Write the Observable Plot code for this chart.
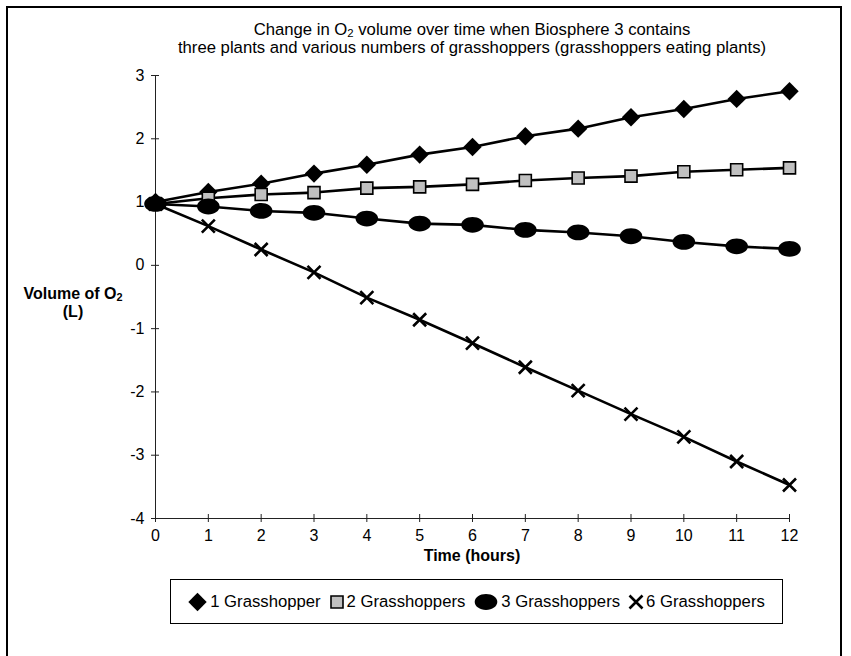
<!DOCTYPE html>
<html>
<head>
<meta charset="utf-8">
<script src="https://cdn.jsdelivr.net/npm/d3@7"></script>
<script src="https://cdn.jsdelivr.net/npm/@observablehq/plot@0.6"></script>
<style>
html, body { margin: 0; padding: 0; background: #fff; }
#wrap { position: relative; width: 851px; height: 656px; overflow: hidden;
  font-family: "Liberation Sans", Arial, sans-serif; color: #000; }
#frame { position: absolute; left: 6px; top: 6px; width: 832px; height: 700px; border: 2px solid #000; }
#chart { position: absolute; left: 0; top: 0; }
#title { position: absolute; left: 0; width: 944px; top: 21px; text-align: center; font-size: 16.7px; line-height: 18px; }
#ylab { position: absolute; left: 13px; width: 120px; top: 285px; text-align: center; font-size: 16px; line-height: 18px; font-weight: bold; }
#xlab { position: absolute; left: 155px; width: 634px; top: 547px; text-align: center; font-size: 16px; line-height: 18px; font-weight: bold; }
.sub { font-size: 0.68em; position: relative; top: 0.22em; line-height: 0; }
#legend { position: absolute; left: 170px; top: 579px; width: 613px; height: 45px; box-sizing: border-box;
  border: 1px solid #000; display: flex; align-items: center; justify-content: center; font-size: 16.7px; }
#legend .item { display: flex; align-items: center; margin: 0 4.5px; }
#legend svg { margin-right: 3px; overflow: visible; }
</style>
</head>
<body>
<div id="wrap">
  <div id="frame"></div>
  <div id="title">Change in O<span class="sub">2</span> volume over time when Biosphere 3 contains<br>three plants and various numbers of grasshoppers (grasshoppers eating plants)</div>
  <div id="ylab">Volume of O<span class="sub">2</span><br>(L)</div>
  <div id="xlab">Time (hours)</div>
  <div id="chart"></div>
  <div id="legend"></div>
</div>
<script>
// ---- data ----
const hours = [0, 1, 2, 3, 4, 5, 6, 7, 8, 9, 10, 11, 12];
const seriesNames = ["1 Grasshopper", "2 Grasshoppers", "3 Grasshoppers", "6 Grasshoppers"];
const g1 = [1.00, 1.16, 1.29, 1.45, 1.59, 1.75, 1.87, 2.04, 2.16, 2.34, 2.47, 2.63, 2.75];
const g2 = [0.97, 1.06, 1.12, 1.15, 1.22, 1.24, 1.28, 1.34, 1.38, 1.41, 1.48, 1.51, 1.54];
const g3 = [0.97, 0.93, 0.86, 0.83, 0.74, 0.66, 0.64, 0.56, 0.52, 0.46, 0.37, 0.30, 0.26];
const g6 = [0.97, 0.62, 0.25, -0.11, -0.51, -0.86, -1.23, -1.61, -1.98, -2.35, -2.71, -3.10, -3.47];
const yTicks = [-4, -3, -2, -1, 0, 1, 2, 3];
const xTicks = hours;

// ---- marker shapes ----
const diamondSym = { draw(ctx) { const r = 9.2; ctx.moveTo(0, -r); ctx.lineTo(r, 0); ctx.lineTo(0, r); ctx.lineTo(-r, 0); ctx.closePath(); } };
const squareSym = { draw(ctx) { const h = 6; ctx.moveTo(-h, -h); ctx.lineTo(h, -h); ctx.lineTo(h, h); ctx.lineTo(-h, h); ctx.closePath(); } };
const ellipseSym = { draw(ctx) {
  const rx = 11.3, ry = 7.9, k = 0.5523;
  ctx.moveTo(rx, 0);
  ctx.bezierCurveTo(rx, ry * k, rx * k, ry, 0, ry);
  ctx.bezierCurveTo(-rx * k, ry, -rx, ry * k, -rx, 0);
  ctx.bezierCurveTo(-rx, -ry * k, -rx * k, -ry, 0, -ry);
  ctx.bezierCurveTo(rx * k, -ry, rx, -ry * k, rx, 0);
  ctx.closePath();
} };
const xSym = { draw(ctx) { const h = 6.5; ctx.moveTo(-h, -h); ctx.lineTo(h, h); ctx.moveTo(h, -h); ctx.lineTo(-h, h); } };

const styles = [
  { symbol: diamondSym, fill: "#000", stroke: "none", strokeWidth: 0 },
  { symbol: squareSym, fill: "#c0c0c0", stroke: "#000", strokeWidth: 1.6 },
  { symbol: ellipseSym, fill: "#000", stroke: "none", strokeWidth: 0 },
  { symbol: xSym, fill: "none", stroke: "#000", strokeWidth: 2.6 }
];
const valuesList = [g1, g2, g3, g6];

const rows = [];
valuesList.forEach((vals, si) => vals.forEach((v, i) => rows.push({ series: seriesNames[si], hour: hours[i], value: v })));

const marks = [
  Plot.ruleX([0], { stroke: "#222", strokeWidth: 1 }),
  Plot.ruleY([-4], { stroke: "#222", strokeWidth: 1 }),
  Plot.ruleY(yTicks, { y: d => d, x1: 0, x2: 0, insetLeft: -4, insetRight: -4, stroke: "#222" }),
  Plot.ruleX(xTicks, { x: d => d, y1: -4, y2: -4, insetTop: -4, insetBottom: -4, stroke: "#222" }),
  Plot.axisY({ ticks: yTicks, tickSize: 0, tickPadding: 11, tickFormat: d => String(d), label: null }),
  Plot.axisX({ ticks: xTicks, tickSize: 0, tickPadding: 11, tickFormat: d => String(d), label: null })
];
seriesNames.forEach((name, si) => {
  const data = rows.filter(r => r.series === name);
  marks.push(Plot.line(data, { x: "hour", y: "value", stroke: "#000", strokeWidth: 2.6, curve: "linear" }));
  const s = styles[si];
  marks.push(Plot.dot(data, { x: "hour", y: "value", symbol: s.symbol, r: 5, fill: s.fill, stroke: s.stroke, strokeWidth: s.strokeWidth }));
});

const chart = Plot.plot({
  width: 851,
  height: 570,
  marginLeft: 155,
  marginRight: 62,
  marginTop: 75,
  marginBottom: 52,
  x: { domain: [0, 12], axis: null },
  y: { domain: [-4, 3], axis: null },
  style: { fontFamily: "'Liberation Sans', Arial, sans-serif", fontSize: "16px", color: "#000", background: "transparent" },
  marks
});
document.getElementById("chart").appendChild(chart);

// ---- legend ----
const legend = document.getElementById("legend");
seriesNames.forEach((name, si) => {
  const s = styles[si];
  const item = document.createElement("span");
  item.className = "item";
  const w = si === 2 ? 24 : (si === 0 ? 19 : 14);
  const svg = d3.create("svg").attr("width", w).attr("height", 20);
  svg.append("path")
    .attr("transform", `translate(${w / 2},10)`)
    .attr("d", d3.symbol(s.symbol)())
    .attr("fill", s.fill).attr("stroke", s.stroke).attr("stroke-width", s.strokeWidth || null);
  item.appendChild(svg.node());
  item.appendChild(document.createTextNode(name));
  legend.appendChild(item);
});
</script>
</body>
</html>
